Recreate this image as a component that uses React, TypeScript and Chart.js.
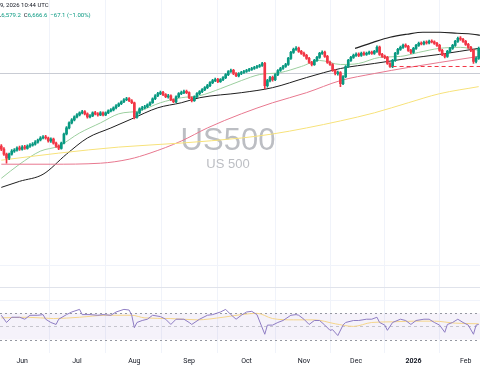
import React, { useEffect, useRef } from 'react';
import { Chart, registerables } from 'chart.js';
Chart.register(...registerables);

// ---- Daily candles (index 0 = ~May 20 2025) ----
const opens = [
  6040,6016,5976,5944,5976,6000,6008,6026,6014,6034,
  6022,6040,6048,6056,6072,6088,6104,6114,6104,6080,
  6096,6064,6040,6022,6064,6136,6184,6224,6248,6272,
  6288,6304,6314,6296,6272,6280,6306,6296,6288,6304,
  6288,6304,6320,6328,6344,6360,6376,6392,6408,6418,
  6400,6384,6270,6304,6336,6344,6352,6368,6384,6416,
  6440,6456,6466,6448,6430,6440,6408,6390,6432,6456,
  6464,6474,6464,6424,6400,6432,6456,6472,6488,6504,
  6520,6544,6560,6570,6552,6568,6584,6608,6632,6642,
  6616,6598,6616,6624,6632,6640,6648,6656,6664,6672,
  6680,6698,6520,6560,6586,6568,6608,6640,6656,6672,
  6688,6736,6784,6808,6818,6792,6776,6760,6736,6704,
  6686,6720,6744,6776,6786,6752,6704,6688,6640,6614,
  6624,6536,6592,6672,6720,6744,6760,6770,6760,6778,
  6768,6776,6786,6776,6792,6826,6768,6752,6744,6696,
  6670,6720,6776,6808,6824,6842,6832,6800,6784,6816,
  6840,6858,6852,6866,6860,6874,6868,6856,6840,6800,
  6768,6752,6792,6816,6840,6872,6898,6888,6872,6848,
  6824,6800,6712,6736,
];
const highs = [
  6052,6028,5984,5984,6012,6020,6034,6040,6044,6046,
  6050,6060,6068,6084,6096,6116,6124,6126,6112,6106,
  6104,6072,6050,6072,6144,6194,6232,6258,6280,6298,
  6312,6324,6322,6304,6290,6312,6316,6306,6314,6312,
  6312,6328,6338,6352,6370,6384,6400,6418,6428,6426,
  6410,6390,6312,6344,6356,6364,6376,6392,6424,6448,
  6466,6476,6474,6456,6450,6446,6416,6440,6464,6476,
  6484,6484,6470,6432,6440,6464,6480,6496,6512,6530,
  6552,6570,6580,6578,6576,6592,6616,6640,6652,6650,
  6624,6624,6634,6642,6650,6658,6666,6674,6682,6690,
  6706,6706,6570,6594,6596,6616,6648,6666,6682,6698,
  6744,6792,6818,6830,6826,6800,6786,6768,6744,6712,
  6728,6752,6784,6796,6794,6760,6714,6696,6648,6636,
  6632,6600,6680,6728,6752,6770,6780,6780,6786,6788,
  6786,6794,6794,6800,6836,6834,6776,6762,6752,6704,
  6728,6784,6816,6834,6850,6852,6840,6808,6824,6848,
  6866,6868,6874,6876,6882,6884,6876,6864,6848,6808,
  6776,6800,6824,6848,6880,6906,6910,6896,6880,6856,
  6832,6808,6748,6826,
];
const lows = [
  6004,5966,5904,5932,5968,5990,6000,6006,6008,6014,
  6016,6030,6040,6048,6064,6080,6096,6094,6072,6070,
  6056,6030,6012,6016,6058,6128,6176,6216,6240,6264,
  6280,6296,6288,6262,6264,6274,6288,6278,6282,6280,
  6282,6298,6312,6320,6336,6352,6368,6384,6400,6392,
  6376,6256,6262,6296,6326,6336,6344,6360,6378,6408,
  6432,6448,6440,6424,6420,6400,6384,6384,6424,6448,
  6456,6456,6416,6390,6394,6424,6448,6464,6480,6496,
  6512,6536,6552,6544,6546,6560,6576,6600,6624,6608,
  6592,6590,6608,6616,6624,6632,6640,6648,6656,6664,
  6672,6496,6508,6550,6556,6560,6600,6632,6648,6664,
  6680,6728,6776,6800,6784,6768,6752,6728,6696,6676,
  6680,6712,6736,6768,6744,6696,6680,6632,6606,6604,
  6512,6528,6584,6664,6712,6736,6752,6750,6752,6760,
  6760,6768,6768,6768,6784,6760,6744,6734,6688,6664,
  6662,6712,6768,6800,6816,6824,6792,6774,6776,6808,
  6832,6844,6844,6850,6852,6860,6848,6832,6792,6758,
  6740,6744,6784,6808,6832,6864,6880,6864,6840,6816,
  6790,6696,6700,6728,
];
const closes = [
  6016,5976,5944,5976,6000,6008,6024,6016,6032,6024,
  6040,6048,6056,6072,6088,6104,6112,6104,6080,6096,
  6064,6040,6024,6064,6136,6184,6224,6248,6272,6288,
  6304,6312,6296,6272,6280,6304,6296,6288,6304,6288,
  6304,6320,6328,6344,6360,6376,6392,6408,6416,6400,
  6384,6272,6304,6336,6344,6352,6368,6384,6416,6440,
  6456,6464,6448,6432,6440,6408,6392,6432,6456,6464,
  6472,6464,6424,6400,6432,6456,6472,6488,6504,6520,
  6544,6560,6568,6552,6568,6584,6608,6632,6640,6616,
  6600,6616,6624,6632,6640,6648,6656,6664,6672,6680,
  6696,6520,6560,6584,6568,6608,6640,6656,6672,6688,
  6736,6784,6808,6816,6792,6776,6760,6736,6704,6688,
  6720,6744,6776,6784,6752,6704,6688,6640,6616,6624,
  6536,6592,6672,6720,6744,6760,6768,6760,6776,6768,
  6776,6784,6776,6792,6824,6768,6752,6744,6696,6672,
  6720,6776,6808,6824,6840,6832,6800,6784,6816,6840,
  6856,6852,6864,6860,6872,6868,6856,6840,6800,6768,
  6752,6792,6816,6840,6872,6896,6888,6872,6848,6824,
  6800,6712,6736,6816,
];

// ---- Time axis ----
const monthIdx = [8, 29, 51, 72, 94, 116, 136, 158, 178];
const monthLabels = ['Jun', 'Jul', 'Aug', 'Sep', 'Oct', 'Nov', 'Dec', '2026', 'Feb'];

// ---- Moving averages (read at sample bars) ----
const maGreenIdx = [0, 7, 15, 22, 30, 38, 45, 53, 61, 69, 76, 84, 92, 99, 107, 115, 122, 130, 137, 145, 153, 160, 168, 176, 183];
const maGreenVal = [5784, 5896, 6000, 6040, 6144, 6224, 6296, 6320, 6384, 6424, 6440, 6496, 6560, 6608, 6624, 6672, 6720, 6688, 6696, 6744, 6752, 6784, 6816, 6824, 6800];
const maBlackIdx = [0, 7, 16, 25, 33, 42, 50, 60, 69, 76, 92, 104, 117, 130, 143, 156, 168, 183];
const maBlackVal = [5712, 5760, 5816, 5976, 6104, 6184, 6256, 6344, 6384, 6424, 6464, 6504, 6584, 6656, 6696, 6736, 6768, 6816];
const maPinkIdx = [0, 19, 38, 49, 57, 69, 79, 92, 104, 117, 130, 143, 156, 168, 183];
const maPinkVal = [5896, 5896, 5904, 5936, 5984, 6080, 6184, 6296, 6384, 6464, 6560, 6616, 6664, 6704, 6752];
const maYellowIdx = [0, 22, 45, 69, 92, 104, 117, 130, 143, 156, 168, 183];
const maYellowVal = [5928, 5984, 6032, 6064, 6104, 6136, 6184, 6240, 6304, 6384, 6456, 6512];

// ---- Drawings ----
const arcIdx = [135.6, 142.5, 149, 155.5, 161.6, 168.1, 174.7, 180.8, 183.5];
const arcVal = [6816, 6864, 6904, 6928, 6944, 6944, 6936, 6928, 6920];
const supportIdx = [150, 183.5];
const supportVal = [6672, 6672];
const hLinePrice = 6624;
const priceGrid = [5096];

// ---- RSI ----
const rsiIdx = [0,2,4,7,9,11,14,16,17,19,21,22,25,27,30,31,34,37,39,42,44,47,49,50,51,52,54,56,58,61,63,65,67,70,72,73,76,79,81,84,86,88,90,92,94,96,98,101,102,104,106,108,111,113,114,116,118,120,122,124,126,127,129,131,132,135,137,140,142,144,145,147,148,150,153,155,157,159,162,164,166,168,170,171,173,175,177,179,181,182,183];
const rsiVal = [67,56,64,64,61,67,67,68,61,56,53,61,68,72,76,68,68,67,68,67,72,76,75,67,48,56,59,61,67,65,61,53,61,61,56,53,61,67,68,72,76,68,61,67,72,73,68,38,52,52,56,59,67,68,67,61,53,59,59,52,44,45,36,52,56,59,59,61,61,64,56,52,44,56,61,59,53,59,61,61,56,52,41,53,56,61,56,52,38,52,53];
const rsiMaIdx = [0, 10, 20, 30, 40, 50, 55, 65, 75, 85, 92, 98, 104, 112, 120, 128, 135, 142, 150, 158, 166, 174, 183];
const rsiMaVal = [63, 64, 62, 64, 67, 67, 63, 62, 60, 64, 68, 70, 62, 60, 60, 54, 50, 56, 57, 58, 58, 55, 54];
const rsiLevels = [70, 50, 30];
const rsiGrid = [90];

const UP = '#089981';
const DOWN = '#f23645';

export default function App() {
  const ref = useRef<HTMLCanvasElement>(null);
  useEffect(() => {
    const canvas = ref.current!;
    const N = closes.length;
    const colors = closes.map((c, i) => (c >= opens[i] ? UP : DOWN));
    const bodies = closes.map((c, i) => ({ x: i, y: [opens[i], c] }));
    const wicks = closes.map((_, i) => ({ x: i, y: [lows[i], highs[i]] }));
    const pts = (idx: number[], val: number[]) => idx.map((x, k) => ({ x, y: val[k] }));
    const line = (data: any, color: string, width: number, axis: string, order: number, extra: any = {}) => ({
      type: 'line', data, borderColor: color, borderWidth: width, pointRadius: 0, fill: false,
      cubicInterpolationMode: 'monotone', yAxisID: axis, order, ...extra,
    });

    const bgPlugin = {
      id: 'bg',
      beforeDatasetsDraw(chart: any) {
        const { ctx, chartArea: a, scales } = chart;
        const y = scales.y, r = scales.yRsi;
        ctx.save();
        ctx.lineWidth = 1;
        ctx.strokeStyle = '#f0f3fa';
        priceGrid.forEach((p) => {
          const py = Math.round(y.getPixelForValue(p)) + 0.5;
          ctx.beginPath(); ctx.moveTo(a.left, py); ctx.lineTo(a.right, py); ctx.stroke();
        });
        rsiGrid.forEach((p) => {
          const py = Math.round(r.getPixelForValue(p)) + 0.5;
          ctx.beginPath(); ctx.moveTo(a.left, py); ctx.lineTo(a.right, py); ctx.stroke();
        });
        // pane separator
        ctx.strokeStyle = '#e0e3eb';
        const sy = Math.round(y.getPixelForValue(4920)) + 0.5;
        ctx.beginPath(); ctx.moveTo(a.left, sy); ctx.lineTo(a.right, sy); ctx.stroke();
        // horizontal price line
        ctx.strokeStyle = '#c9ccd4';
        const hy = Math.round(y.getPixelForValue(hLinePrice)) + 0.5;
        ctx.beginPath(); ctx.moveTo(a.left, hy); ctx.lineTo(a.right, hy); ctx.stroke();
        // RSI band
        const y70 = r.getPixelForValue(rsiLevels[0]);
        const y30 = r.getPixelForValue(rsiLevels[2]);
        ctx.fillStyle = 'rgba(126,87,194,0.08)';
        ctx.fillRect(a.left, y70, a.width, y30 - y70);
        ctx.strokeStyle = '#9598a1';
        ctx.setLineDash([2, 3]);
        [rsiLevels[0], rsiLevels[2]].forEach((v) => {
          const py = Math.round(r.getPixelForValue(v)) + 0.5;
          ctx.beginPath(); ctx.moveTo(a.left, py); ctx.lineTo(a.right, py); ctx.stroke();
        });
        ctx.strokeStyle = 'rgba(149,152,161,0.5)';
        ctx.setLineDash([3, 3]);
        const y50 = Math.round(r.getPixelForValue(rsiLevels[1])) + 0.5;
        ctx.beginPath(); ctx.moveTo(a.left, y50); ctx.lineTo(a.right, y50); ctx.stroke();
        ctx.setLineDash([]);
        // watermark
        ctx.fillStyle = '#bcbec3';
        ctx.textAlign = 'center';
        ctx.textBaseline = 'alphabetic';
        ctx.font = '31px "Liberation Sans", Arial, sans-serif';
        ctx.fillText('US500', 228, 150);
        ctx.font = '13px "Liberation Sans", Arial, sans-serif';
        ctx.fillText('US 500', 228, 168);
        ctx.restore();
      },
      afterDraw(chart: any) {
        const { ctx } = chart;
        ctx.save();
        ctx.textBaseline = 'middle';
        ctx.textAlign = 'left';
        ctx.font = '6px Roboto, sans-serif';
        ctx.fillStyle = '#131722';
        const t1 = 'Feb 19, 2026 10:44 UTC';
        const cut = ctx.measureText('Feb 1').width;
        ctx.fillText(t1, -cut, 5);
        let x = -2;
        const segs: [string, string][] = [
          ['L', '#131722'], ['6,579.2', UP], ['  C', '#131722'], ['6,666.6', UP], ['  \u221267.1 (\u22121.00%)', UP],
        ];
        segs.forEach(([s, c]) => {
          ctx.fillStyle = c;
          ctx.fillText(s, x, 15);
          x += ctx.measureText(s).width;
        });
        ctx.restore();
      },
    };

    const chart = new Chart(canvas, {
      type: 'bar',
      data: {
        datasets: [
          line(pts(maYellowIdx, maYellowVal), '#f7e27a', 1, 'y', 5),
          line(pts(maPinkIdx, maPinkVal), '#e8788f', 1, 'y', 5),
          line(pts(maBlackIdx, maBlackVal), '#1f1f1f', 1, 'y', 5),
          line(pts(maGreenIdx, maGreenVal), '#9ccf9f', 1, 'y', 5),
          line(pts(arcIdx, arcVal), '#222222', 1.2, 'y', 0),
          line(pts(supportIdx, supportVal), DOWN, 1, 'y', 0, { borderDash: [4, 3], cubicInterpolationMode: 'default', tension: 0 }),
          { type: 'bar', data: wicks, backgroundColor: colors, barThickness: 1, grouped: false, yAxisID: 'y', order: 2 },
          { type: 'bar', data: bodies, backgroundColor: colors, barThickness: 2, grouped: false, yAxisID: 'y', order: 1 },
          line(pts(rsiMaIdx, rsiMaVal), '#f5d58a', 1, 'yRsi', 4),
          line(pts(rsiIdx, rsiVal), '#8e7cc3', 1, 'yRsi', 3, { cubicInterpolationMode: 'default', tension: 0 }),
        ] as any,
      },
      options: {
        responsive: false,
        animation: false,
        events: [],
        layout: { padding: { left: 0, right: 0, top: 0, bottom: 15 } },
        plugins: { legend: { display: false }, tooltip: { enabled: false } },
        scales: {
          x: {
            type: 'linear',
            min: -0.5,
            max: N - 0.5,
            offset: false,
            afterBuildTicks: (s: any) => {
              s.ticks = monthIdx.map((v) => ({ value: v }));
            },
            ticks: {
              autoSkip: false,
              maxRotation: 0,
              padding: 4,
              color: '#131722',
              font: (c: any) => {
                const k = c.tick ? monthIdx.indexOf(c.tick.value) : -1;
                return { family: 'Roboto, sans-serif', size: 7, weight: k >= 0 && monthLabels[k] === '2026' ? 'bold' : 'normal' };
              },
              callback: (v: any) => {
                const k = monthIdx.indexOf(v);
                return k >= 0 ? monthLabels[k] : '';
              },
            },
            grid: { color: '#f0f3fa', drawTicks: false },
            border: { display: false },
          },
          y: { axis: 'y', display: false, min: 4400, max: 7200 },
          yRsi: { axis: 'y', type: 'linear', display: false, min: 10, max: 548.46 },
        },
      } as any,
      plugins: [bgPlugin],
    });
    return () => chart.destroy();
  }, []);

  return (
    <div style={{ position: 'fixed', left: 0, top: 0, width: 480, height: 384, background: '#ffffff' }}>
      <canvas ref={ref} width={480} height={384} style={{ display: 'block' }} />
    </div>
  );
}
